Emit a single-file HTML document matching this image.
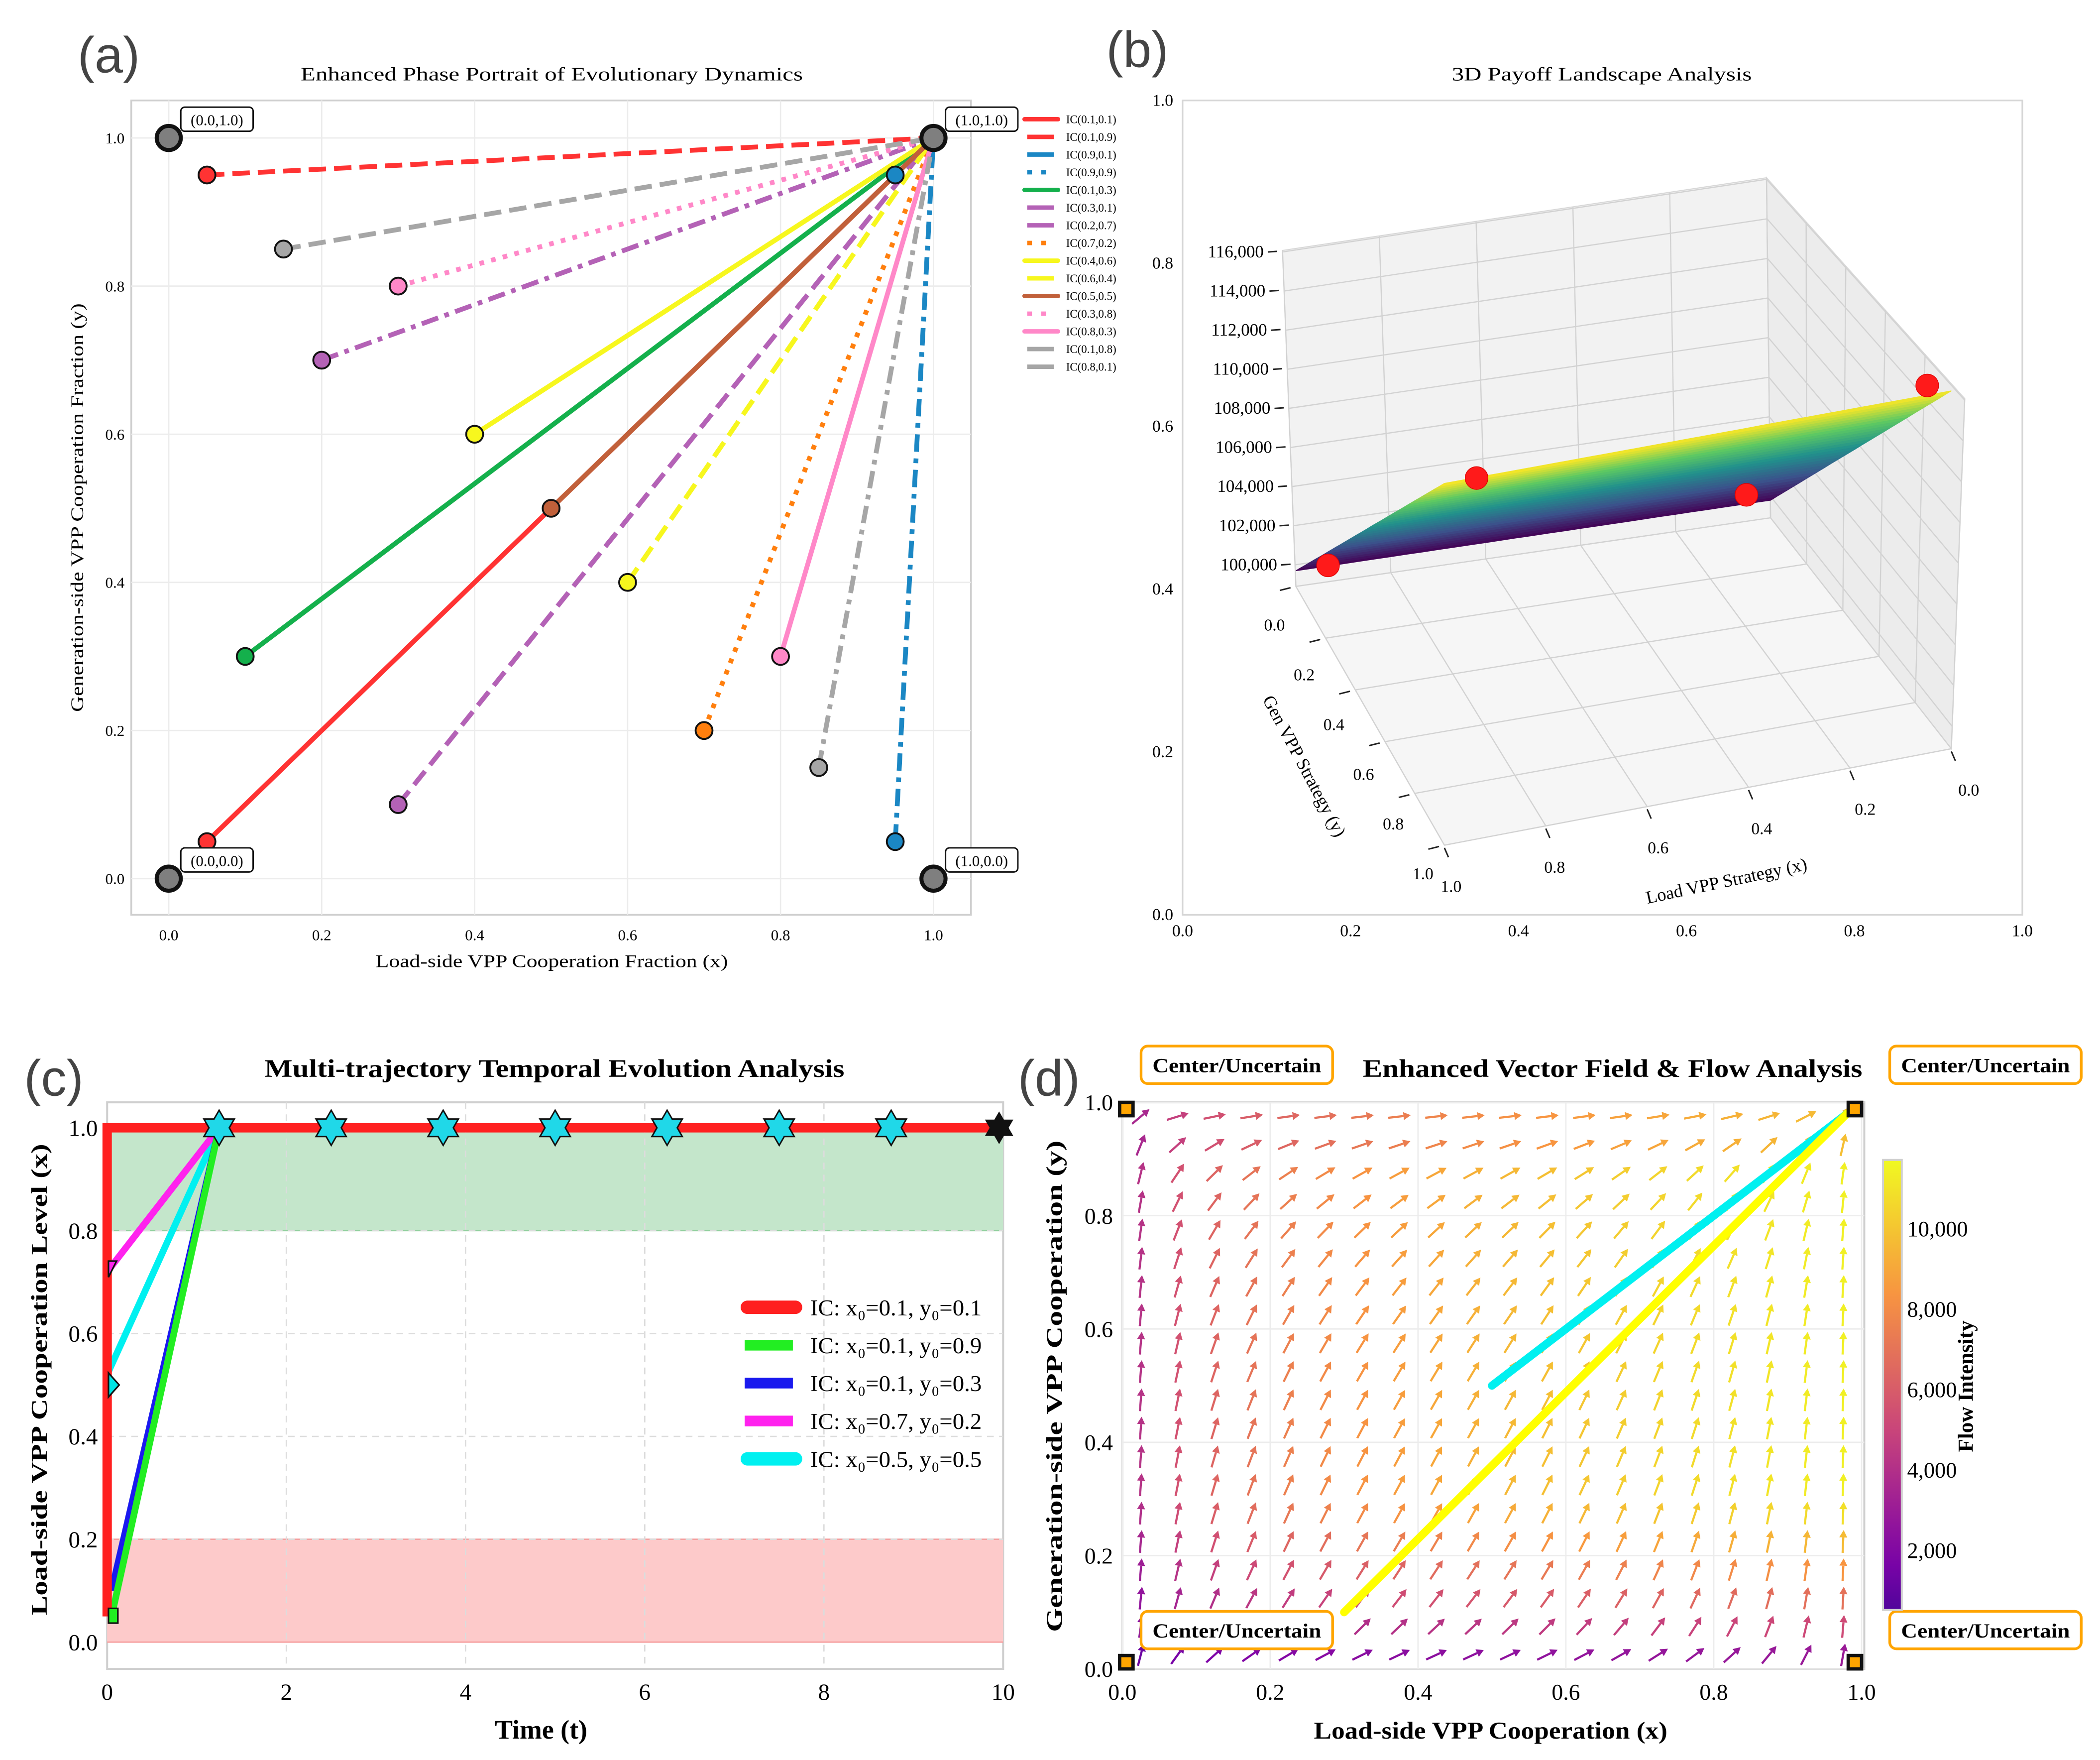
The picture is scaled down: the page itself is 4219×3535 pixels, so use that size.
<!DOCTYPE html>
<html><head><meta charset="utf-8"><style>
html,body{margin:0;padding:0;background:#fff;}
svg{display:block;font-family:"Liberation Serif",serif;}
.pl{font-family:"Liberation Sans",sans-serif;fill:#444;}
</style></head><body>
<svg id="fig" xmlns="http://www.w3.org/2000/svg" width="4219" height="3535" viewBox="0 0 1568 1314" preserveAspectRatio="none">
<rect x="0" y="0" width="1568" height="1314" fill="#fff"/>
<g id="pa">
<text class="pl" x="58" y="54" font-size="38">(a)</text>
<text x="412" y="60" font-size="14" text-anchor="middle" textLength="375" lengthAdjust="spacingAndGlyphs">Enhanced Phase Portrait of Evolutionary Dynamics</text>
<rect x="98" y="75" width="627" height="608" fill="#fff" stroke="#cfcfcf" stroke-width="1.3"/>
<text x="412" y="722" font-size="13.5" text-anchor="middle" textLength="263" lengthAdjust="spacingAndGlyphs">Load-side VPP Cooperation Fraction (x)</text>
<text transform="translate(62,379) rotate(-90)" font-size="13.5" text-anchor="middle" textLength="305" lengthAdjust="spacingAndGlyphs">Generation-side VPP Cooperation Fraction (y)</text>
</g>
<g id="pb">
<text class="pl" x="826" y="50" font-size="38">(b)</text>
<text x="1196" y="60" font-size="14" text-anchor="middle" textLength="224" lengthAdjust="spacingAndGlyphs">3D Payoff Landscape Analysis</text>
<rect x="883" y="75" width="627" height="608" fill="#fff" stroke="#d6d6d6" stroke-width="1.2"/>
<text transform="translate(970,574) rotate(62)" font-size="13.5" text-anchor="middle">Gen VPP Strategy (y)</text>
<text transform="translate(1290,662) rotate(-12)" font-size="13.5" text-anchor="middle">Load VPP Strategy (x)</text>
</g>
<g id="pc">
<text class="pl" x="18" y="818" font-size="38">(c)</text>
<text x="414" y="804" font-size="19" font-weight="bold" text-anchor="middle" textLength="433" lengthAdjust="spacingAndGlyphs">Multi-trajectory Temporal Evolution Analysis</text>
<rect x="80" y="823" width="669" height="423" fill="#fff" stroke="#cfcfcf" stroke-width="1.5"/>
<text x="404" y="1298" font-size="20" font-weight="bold" text-anchor="middle">Time (t)</text>
<text transform="translate(35,1030) rotate(-90)" font-size="17" font-weight="bold" text-anchor="middle" textLength="352" lengthAdjust="spacingAndGlyphs">Load-side VPP Cooperation Level (x)</text>
</g>
<g id="pd">
<text class="pl" x="760" y="818" font-size="38">(d)</text>
<text x="1204" y="804" font-size="19" font-weight="bold" text-anchor="middle" textLength="373" lengthAdjust="spacingAndGlyphs">Enhanced Vector Field &amp; Flow Analysis</text>
<rect x="838" y="823" width="554" height="423" fill="#fff" stroke="#cfcfcf" stroke-width="1.5"/>
<text x="1113" y="1298" font-size="18" font-weight="bold" text-anchor="middle" textLength="264" lengthAdjust="spacingAndGlyphs">Load-side VPP Cooperation (x)</text>
<text transform="translate(793,1035) rotate(-90)" font-size="17" font-weight="bold" text-anchor="middle" textLength="367" lengthAdjust="spacingAndGlyphs">Generation-side VPP Cooperation (y)</text>
<text transform="translate(1473,1035) rotate(-90)" font-size="16" font-weight="bold" text-anchor="middle">Flow Intensity</text>
</g>
</svg>
<script>
const NS='http://www.w3.org/2000/svg';
const svg=document.getElementById('fig');
function mk(tag,attrs,parent){const e=document.createElementNS(NS,tag);for(const k in attrs)e.setAttribute(k,attrs[k]);(parent||svg).appendChild(e);return e;}
function lerpHex(stops,t){t=Math.max(0,Math.min(1,t));for(let i=0;i<stops.length-1;i++){const a=stops[i],b=stops[i+1];if(t<=b[0]){const u=(t-a[0])/(b[0]-a[0]);const ca=a[1].match(/\w\w/g).map(h=>parseInt(h,16)),cb=b[1].match(/\w\w/g).map(h=>parseInt(h,16));return 'rgb('+ca.map((c,j)=>Math.round(c+(cb[j]-c)*u)).join(',')+')';}}return stops[stops.length-1][1];}
const VIR=[[0,'#440154'],[0.25,'#3b528b'],[0.5,'#21918c'],[0.75,'#5ec962'],[1,'#fde725']];
const PLA=[[0,'#0d0887'],[0.25,'#7e03a8'],[0.5,'#cc4778'],[0.75,'#f89540'],[1,'#f0f921']];

/* ================= PANEL A DATA ================= */
const aLabels=['IC(0.1,0.1)','IC(0.1,0.9)','IC(0.9,0.1)','IC(0.9,0.9)','IC(0.1,0.3)','IC(0.3,0.1)','IC(0.2,0.7)','IC(0.7,0.2)','IC(0.4,0.6)','IC(0.6,0.4)','IC(0.5,0.5)','IC(0.3,0.8)','IC(0.8,0.3)','IC(0.1,0.8)','IC(0.8,0.1)'];
const aStartX=[0.05,0.05,0.95,0.95,0.10,0.30,0.20,0.70,0.40,0.60,0.50,0.30,0.80,0.15,0.85];
const aStartY=[0.05,0.95,0.05,0.95,0.30,0.10,0.70,0.20,0.60,0.40,0.50,0.80,0.30,0.85,0.15];
const aEndX=[1,1,1,1,1,1,1,1,1,1,1,1,1,1,1];
const aEndY=[1,1,1,1,1,1,1,1,1,1,1,1,1,1,1];
const aColors=['#ff3333','#ff3333','#1b87c4','#1b87c4','#14b04c','#b462b6','#b462b6','#ff7f0e','#f7f71e','#f7f71e','#c1603a','#ff88c8','#ff88c8','#a6a6a6','#a6a6a6'];
const aStyles=['solid','dash','dashdot','dot','solid','dash','dashdot','dot','solid','dash','solid','dot','solid','dash','dashdot'];
const aTicks=[0,0.2,0.4,0.6,0.8,1.0];
const aTickLabels=['0.0','0.2','0.4','0.6','0.8','1.0'];
const aFixX=[0,0,1,1];
const aFixY=[0,1,0,1];
const aFixLabels=['(0.0,0.0)','(0.0,1.0)','(1.0,0.0)','(1.0,1.0)'];
const dashMap={solid:'',dash:'13,6',dot:'3.5,5.5',dashdot:'13,5,3.5,5'};

const ax=v=>126+571*v, ay=v=>656-553*v;
const gA=document.getElementById('pa');
aTicks.forEach((t,i)=>{
  let g=mk('line',{x1:ax(t),x2:ax(t),y1:75,y2:683,stroke:'#ececec','stroke-width':1},gA);
  
  
  g=mk('line',{x1:98,x2:725,y1:ay(t),y2:ay(t),stroke:'#ececec','stroke-width':1},gA);
  
  
  let tx=mk('text',{x:ax(t),y:702,'font-size':11.5,'text-anchor':'middle'},gA);tx.textContent=aTickLabels[i];
  
  
  tx=mk('text',{x:93,y:ay(t)+4,'font-size':11.5,'text-anchor':'end'},gA);tx.textContent=aTickLabels[i];
  
  
});
aStartX.forEach((sx,i)=>{
  const l=mk('line',{x1:ax(sx),y1:ay(aStartY[i]),x2:ax(aEndX[i]),y2:ay(aEndY[i]),stroke:aColors[i],'stroke-width':3.6,'stroke-dasharray':dashMap[aStyles[i]]},gA);
  
  
});
aStartX.forEach((sx,i)=>{
  const c=mk('circle',{cx:ax(sx),cy:ay(aStartY[i]),r:6.3,fill:aColors[i],stroke:'#111','stroke-width':1.4},gA);
  
  
});
aFixX.forEach((fx,i)=>{
  const c=mk('circle',{cx:ax(fx),cy:ay(aFixY[i]),r:9,fill:'#7f7f7f',stroke:'#111','stroke-width':3},gA);
  
  
  const bx=ax(fx)+9, by=ay(aFixY[i])-23;
  const r=mk('rect',{x:bx,y:by,width:54,height:18,rx:3,fill:'#fff',stroke:'#111','stroke-width':1.1},gA);
  
  
  const t=mk('text',{x:bx+27,y:by+13.5,'font-size':11.5,'text-anchor':'middle'},gA);t.textContent=aFixLabels[i];
  
  
});
aLabels.forEach((lab,i)=>{
  const y=89+i*13.2;
  const sty=aStyles[i];
  const l=mk('line',{x1:sty==='solid'?765:767,x2:sty==='solid'?790:787,y1:y,y2:y,stroke:aColors[i],'stroke-width':3.3,'stroke-linecap':sty==='solid'?'round':'butt','stroke-dasharray':sty==='dot'?'3.5,7':''},gA);
  
  
  const t=mk('text',{x:796,y:y+3,'font-size':8.5},gA);t.textContent=lab;
  
  
});

/* ================= PANEL B DATA ================= */
const bZTicks=[100000,102000,104000,106000,108000,110000,112000,114000,116000];
const bGridTicks=[0,0.2,0.4,0.6,0.8,1.0];
const bGridLabels=['0.0','0.2','0.4','0.6','0.8','1.0'];
const bCornerX=[1,0,0,1];
const bCornerY=[0,0,1,1];
const bCornerZ=[99700,99800,117200,117400];
const bFrameTicks=['0.0','0.2','0.4','0.6','0.8','1.0'];

const gB=document.getElementById('pb');
bFrameTicks.forEach((lab,i)=>{
  let t=mk('text',{x:883+125.4*i,y:699,'font-size':12.5,'text-anchor':'middle'},gB);t.textContent=lab;
  
  
  t=mk('text',{x:876,y:683-121.6*i+4,'font-size':12.5,'text-anchor':'end'},gB);t.textContent=lab;
  
  
});
const C10=[967.6,437.8],C00=[1322,386.6],C01=[1457,559],C11=[1078.5,631];
function F(x,y){return [ (1-x)*(1-y)*C00[0]+x*(1-y)*C10[0]+(1-x)*y*C01[0]+x*y*C11[0], (1-x)*(1-y)*C00[1]+x*(1-y)*C10[1]+(1-x)*y*C01[1]+x*y*C11[1] ];}
const ZF=98900, KZ=0.0146;
function P(x,y,z){const f=F(x,y);return [f[0],f[1]-(z-ZF)*KZ];}
const TL=[957.6,187],TB=[1319,132.7],TR=[1467,297.6];
function pts(a){return a.map(p=>p[0].toFixed(1)+','+p[1].toFixed(1)).join(' ');}
let pane=mk('polygon',{points:pts([TL,TB,C00,C10]),fill:'#f2f2f2',stroke:'#d8d8d8','stroke-width':0.8},gB);


pane=mk('polygon',{points:pts([TB,TR,C01,C00]),fill:'#ececec',stroke:'#d8d8d8','stroke-width':0.8},gB);


pane=mk('polygon',{points:pts([C10,C00,C01,C11]),fill:'#f6f6f6',stroke:'#d8d8d8','stroke-width':0.8},gB);


const lp=(a,b,t)=>[a[0]+(b[0]-a[0])*t,a[1]+(b[1]-a[1])*t];
bGridTicks.forEach(t=>{
  let a=F(t,0),b=F(t,1);
  let l=mk('line',{x1:a[0],y1:a[1],x2:b[0],y2:b[1],stroke:'#d2d2d2','stroke-width':0.9},gB);
  
  
  a=F(0,t);b=F(1,t);
  l=mk('line',{x1:a[0],y1:a[1],x2:b[0],y2:b[1],stroke:'#d2d2d2','stroke-width':0.9},gB);
  
  
  a=F(t,0);b=lp(TL,TB,1-t);
  l=mk('line',{x1:a[0],y1:a[1],x2:b[0],y2:b[1],stroke:'#d2d2d2','stroke-width':0.9},gB);
  
  
  a=F(0,t);b=lp(TB,TR,t);
  l=mk('line',{x1:a[0],y1:a[1],x2:b[0],y2:b[1],stroke:'#d2d2d2','stroke-width':0.9},gB);
  
  
});
bZTicks.forEach((z,i)=>{
  const u=(z-ZF)/((437.8-187)/KZ);
  const a=lp(C10,TL,u),b=lp(C00,TB,u),c=lp(C01,TR,u);
  let l=mk('polyline',{points:pts([a,b,c]),fill:'none',stroke:'#d2d2d2','stroke-width':0.9},gB);
  
  
  const ty=a[1];
  const rx=953.6-(i/8)*10;
  l=mk('line',{x1:rx+3,x2:rx+10,y1:ty,y2:ty-0.5,stroke:'#222','stroke-width':1.1},gB);
  
  
  const t=mk('text',{x:rx,y:ty+4,'font-size':13,'text-anchor':'end'},gB);t.textContent=z.toLocaleString('en-US');
  
  
});
bGridTicks.forEach((t,i)=>{
  const a=F(1,t);
  let l=mk('line',{x1:a[0]-12,y1:a[1]+3,x2:a[0]-4,y2:a[1]+1,stroke:'#222','stroke-width':1.1},gB);
  
  
  let tx=mk('text',{x:a[0]-16,y:a[1]+33-i*1.5,'font-size':12.5,'text-anchor':'middle'},gB);tx.textContent=bGridLabels[i];
  
  
  const b=F(t,1);
  l=mk('line',{x1:b[0],y1:b[1]+2,x2:b[0]+3,y2:b[1]+9,stroke:'#222','stroke-width':1.1},gB);
  
  
  tx=mk('text',{x:b[0]+5+ (1-t)*8,y:b[1]+35,'font-size':12.5,'text-anchor':'middle'},gB);tx.textContent=bGridLabels[i];
  
  
});
function zAt(x,y){const z10=bCornerZ[0],z00=bCornerZ[1],z01=bCornerZ[2],z11=bCornerZ[3];return (1-x)*(1-y)*z00+x*(1-y)*z10+(1-x)*y*z01+x*y*z11;}
const zmin=Math.min(...bCornerZ),zmax=Math.max(...bCornerZ);
const NS_=30;
const surf=mk('g',{},gB);


for(let i=0;i<NS_;i++)for(let j=0;j<NS_;j++){
  const x0=i/NS_,x1=(i+1)/NS_,y0=j/NS_,y1=(j+1)/NS_;
  const q=[P(x0,y0,zAt(x0,y0)),P(x1,y0,zAt(x1,y0)),P(x1,y1,zAt(x1,y1)),P(x0,y1,zAt(x0,y1))];
  const zc=zAt((x0+x1)/2,(y0+y1)/2);
  const col=lerpHex(VIR,(zc-zmin)/(zmax-zmin));
  const p=mk('polygon',{points:pts(q),fill:col,stroke:col,'stroke-width':0.6},surf);
  
  
}
bCornerX.forEach((cx,i)=>{
  const p=P(cx,bCornerY[i],bCornerZ[i]);
  const c=mk('circle',{cx:p[0]+ (cx===1?24:-18),cy:p[1]-4,r:8.5,fill:'#ff1a1a',stroke:'#e00000','stroke-width':0.5},gB);
  
  
});

/* ================= PANEL C DATA ================= */
const cTicksX=[0,2,4,6,8,10];
const cTicksY=[0,0.2,0.4,0.6,0.8,1.0];
const cTickYLabels=['0.0','0.2','0.4','0.6','0.8','1.0'];
const cNames=['IC: x\u2080=0.1, y\u2080=0.1','IC: x\u2080=0.1, y\u2080=0.9','IC: x\u2080=0.1, y\u2080=0.3','IC: x\u2080=0.7, y\u2080=0.2','IC: x\u2080=0.5, y\u2080=0.5'];
const cColors=['#ff2020','#22ee22','#1a1aee','#ff22ee','#00f0f0'];
const cT=[[0,0,10],[0.05,1.25,10],[0.05,1.25,10],[0,1.25,10],[0,1.25,10]];
const cX=[[0.05,1.0,1.0],[0.05,1.0,1.0],[0.1,1.0,1.0],[0.72,1.0,1.0],[0.52,1.0,1.0]];
const cMarkerT=[1.25,2.5,3.75,5,6.25,7.5,8.75];
const cMarkerX=[1,1,1,1,1,1,1];
const gC=document.getElementById('pc');
const cx_=t=>80+66.9*t, cy_=v=>1226-384*v;
let band=mk('rect',{x:80,y:cy_(1.0),width:669,height:cy_(0.8)-cy_(1.0),fill:'#c4e6cb'},gC);


let bl=mk('line',{x1:80,x2:749,y1:cy_(0.8),y2:cy_(0.8),stroke:'#8fcf9c','stroke-width':1},gC);


band=mk('rect',{x:80,y:cy_(0.2),width:669,height:cy_(0)-cy_(0.2),fill:'#fdcaca'},gC);


bl=mk('line',{x1:80,x2:749,y1:cy_(0.2),y2:cy_(0.2),stroke:'#f5a0a0','stroke-width':1},gC);


bl=mk('line',{x1:80,x2:749,y1:cy_(0),y2:cy_(0),stroke:'#f5a0a0','stroke-width':1},gC);


cTicksX.forEach(t=>{
  if(t>0&&t<10){const g=mk('line',{x1:cx_(t),x2:cx_(t),y1:823,y2:1246,stroke:'#dcdcdc','stroke-width':1,'stroke-dasharray':'5,4'},gC);
  
  }
  const tx=mk('text',{x:cx_(t),y:1269,'font-size':17.5,'text-anchor':'middle'},gC);tx.textContent=String(t);
  
  
});
cTicksY.forEach((v,i)=>{
  if(v>0.1&&v<0.9){const g=mk('line',{x1:80,x2:749,y1:cy_(v),y2:cy_(v),stroke:'#dcdcdc','stroke-width':1,'stroke-dasharray':'5,4'},gC);
  
  }
  const tx=mk('text',{x:73,y:cy_(v)+6,'font-size':17.5,'text-anchor':'end'},gC);tx.textContent=cTickYLabels[i];
  
  
});
const cWidths=[7,5,5,5,5];
for(let i=cT.length-1;i>=0;i--){
  const p=cT[i].map((t,k)=>cx_(t).toFixed(1)+','+cy_(cX[i][k]).toFixed(1)).join(' ');
  const l=mk('polyline',{points:p,fill:'none',stroke:cColors[i],'stroke-width':cWidths[i],'stroke-linejoin':'miter'},gC);
  
  
}
let mkr=mk('rect',{x:cx_(0)+1,y:cy_(0.05)-6,width:7,height:11,fill:'#22ee22',stroke:'#111','stroke-width':1.2},gC);


mkr=mk('polygon',{points:[cx_(0)+1,cy_(0.5)-9,cx_(0)+9,cy_(0.5),cx_(0)+1,cy_(0.5)+9].join(','),fill:'#00e5e5',stroke:'#111','stroke-width':1.2},gC);


mkr=mk('polygon',{points:[cx_(0)+1,cy_(0.72)-8,cx_(0)+7,cy_(0.72)-8,cx_(0)+1,cy_(0.72)+4].join(','),fill:'#ff22ee',stroke:'#111','stroke-width':1.2},gC);


function hexagram(cx,cy,r,fill){const a=[],b=[];for(let k=0;k<3;k++){const t1=-Math.PI/2+k*2*Math.PI/3,t2=Math.PI/2+k*2*Math.PI/3;a.push((cx+r*Math.cos(t1)).toFixed(1)+','+(cy+r*Math.sin(t1)).toFixed(1));b.push((cx+r*Math.cos(t2)).toFixed(1)+','+(cy+r*Math.sin(t2)).toFixed(1));}
  const g=mk('g',{},gC);
  
  
  mk('polygon',{points:a.join(' '),fill:fill,stroke:'#111','stroke-width':2.2},g);mk('polygon',{points:b.join(' '),fill:fill,stroke:'#111','stroke-width':2.2},g);
  mk('polygon',{points:a.join(' '),fill:fill},g);mk('polygon',{points:b.join(' '),fill:fill},g);return g;}
cMarkerT.forEach((t,i)=>hexagram(cx_(t),cy_(cMarkerX[i]),12,'#20d8e8'));
hexagram(cx_(10)-3,cy_(1.0),10,'#111');
cNames.forEach((n,i)=>{
  const y=976+i*28.3;
  const round=(i===0||i===4);
  const l=mk('line',{x1:round?558:556,x2:round?594:592,y1:y,y2:y,stroke:cColors[i],'stroke-width':round?10:8,'stroke-linecap':round?'round':'butt'},gC);
  
  
  const t=mk('text',{x:605,y:y+6,'font-size':17,textLength:128,lengthAdjust:'spacingAndGlyphs'},gC);t.textContent=n;
  
  
});

/* ================= PANEL D DATA ================= */
const dGrid=[0.025,0.075,0.125,0.175,0.225,0.275,0.325,0.375,0.425,0.475,0.525,0.575,0.625,0.675,0.725,0.775,0.825,0.875,0.925,0.975];
const dTicks=[0,0.2,0.4,0.6,0.8,1.0];
const dTickLabels=['0.0','0.2','0.4','0.6','0.8','1.0'];
const dCbTicks=[2000,4000,6000,8000,10000];
const dCbMin=500, dCbMax=11700;
const dTrajX=[[0.5,0.98],[0.3,0.98]];
const dTrajY=[[0.5,0.98],[0.1,0.98]];
const dTrajColors=['#00f0f0','#ffff00'];
const dEqX=[0,1,0,1];
const dEqY=[1,1,0,0];
const gD=document.getElementById('pd');
const dx_=v=>838+552*v, dy_=v=>1246-423*v;
dTicks.forEach((v,i)=>{
  let g=mk('line',{x1:dx_(v),x2:dx_(v),y1:823,y2:1246,stroke:'#ececec','stroke-width':1},gD);
  
  
  g=mk('line',{x1:838,x2:1392,y1:dy_(v),y2:dy_(v),stroke:'#ececec','stroke-width':1},gD);
  
  
  let t=mk('text',{x:dx_(v),y:1269,'font-size':17,'text-anchor':'middle'},gD);t.textContent=dTickLabels[i];
  
  
  t=mk('text',{x:831,y:dy_(v)+6,'font-size':17,'text-anchor':'end'},gD);t.textContent=dTickLabels[i];
  
  
});
function intensity(x,y){let f=Math.pow(Math.min(1,y/0.3),0.6);if(y>0.9)f*=0.85;return 1500+10000*Math.pow(x,0.3)*f;}
const qg=mk('g',{},gD);


dGrid.forEach(x=>dGrid.forEach(y=>{
  const u=x*(1-x)*(0.5+y), v=y*(1-y)*(1.2+x)+0.02*(1-y);
  const m=Math.hypot(u,v)||1;const L=17;
  const ux=u/m, uy=-v/m;
  const cx=dx_(x), cy=dy_(y);
  const x0=cx-ux*L/2,y0=cy-uy*L/2,x1=cx+ux*L/2,y1=cy+uy*L/2;
  const col=lerpHex(PLA,(intensity(x,y)+300)/(dCbMax+300));
  const hx=x1-ux*5.5,hy=y1-uy*5.5,px=-uy,py=ux;
  const a=mk('g',{},qg);
  
  
  mk('line',{x1:x0,y1:y0,x2:hx,y2:hy,stroke:col,'stroke-width':1.6},a);
  mk('polygon',{points:[x1,y1,hx+px*3,hy+py*3,hx-px*3,hy-py*3].map(n=>n.toFixed(1)).join(','),fill:col},a);
}));
dTrajX.forEach((xs,i)=>{
  const p=xs.map((x,k)=>dx_(x).toFixed(1)+','+dy_(dTrajY[i][k]).toFixed(1)).join(' ');
  const l=mk('polyline',{points:p,fill:'none',stroke:dTrajColors[i],'stroke-width':6,'stroke-linecap':'round'},gD);
  
  
});
dEqX.forEach((x,i)=>{
  const cx=dx_(x)+(x===0?3:-5), cy=dy_(dEqY[i])+(dEqY[i]===1?5:-5);
  const r=mk('rect',{x:cx-5,y:cy-5,width:10,height:10,fill:'#ffa500',stroke:'#111','stroke-width':2.5},gD);
  
  
});
const boxPos=[[852,781],[1411,781],[852,1203],[1411,1203]];
boxPos.forEach(p=>{
  const r=mk('rect',{x:p[0],y:p[1],width:143,height:28,rx:5,fill:'#fff',stroke:'#ffa500','stroke-width':2},gD);
  
  
  const t=mk('text',{x:p[0]+71.5,y:p[1]+19.5,'font-size':15,'font-weight':'bold','text-anchor':'middle',textLength:126,lengthAdjust:'spacingAndGlyphs'},gD);t.textContent='Center/Uncertain';
  
  
});
const defs=mk('defs',{});
const lg=mk('linearGradient',{id:'cbg',x1:0,y1:1,x2:0,y2:0},defs);
for(let k=0;k<=10;k++){const v=dCbMin+(dCbMax-dCbMin)*k/10;mk('stop',{offset:k/10,'stop-color':lerpHex(PLA,(v+1500)/(dCbMax+1500))},lg);}
const cbTop=866,cbBot=1202;
const cb=mk('rect',{x:1406,y:cbTop,width:14,height:cbBot-cbTop,fill:'url(#cbg)',stroke:'#d0d0d0','stroke-width':1.5},gD);


dCbTicks.forEach(v=>{
  const y=cbBot-(v-dCbMin)/(dCbMax-dCbMin)*(cbBot-cbTop);
  const t=mk('text',{x:1424,y:y+6,'font-size':16.5},gD);t.textContent=v.toLocaleString('en-US');
  
  
});
</script>
</body></html>
